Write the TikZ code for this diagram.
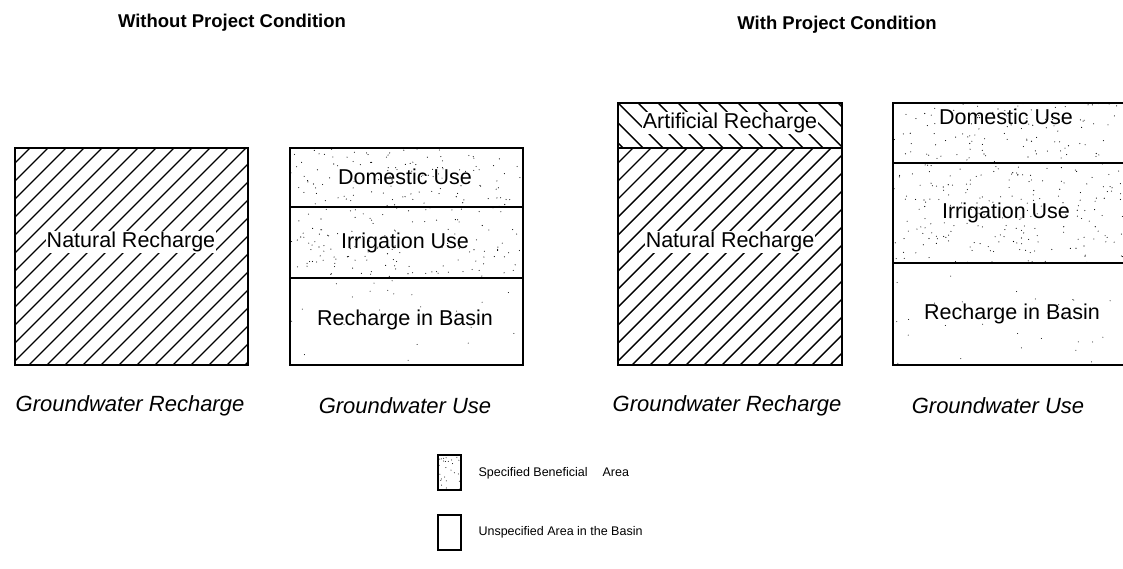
\documentclass[tikz,border=0pt]{standalone}
\usepackage{fontspec}
\setmainfont{Liberation Sans}
\begin{document}
\begin{tikzpicture}[x=1pt,y=-1pt,
  ttl/.style={font=\fontsize{18.5}{22}\selectfont\bfseries},
  lbl/.style={font=\fontsize{21.5}{24}\selectfont, inner sep=1pt},
  hlbl/.style={lbl, fill=white},
  captxt/.style={font=\fontsize{22}{24}\selectfont\itshape},
  leg/.style={font=\fontsize{12.5}{14}\selectfont, anchor=west},
  border/.style={line width=2.3pt},
  divl/.style={line width=1.3pt},
  hatch/.style={line width=1.4pt}
]
\useasboundingbox (0,0) rectangle (1123,569);
\pgfmathsetseed{7}
% ---------- left panel ----------
\node[ttl] (t1) at (232,23) {Without Project Condition};
\begin{scope}
  \clip (15,148) rectangle (248,365);
  \foreach \k in {-220,-202,...,250} {\draw[hatch] (15+\k,365) -- (15+\k+217,148);}
\end{scope}
\draw[border] (15,148) rectangle (248,365);
\node[hlbl] (nr1) at (131,242) {Natural Recharge};
\begin{scope}
  \clip (290,148) rectangle (523,278);
  \foreach \i in {1,...,260} {\pgfmathsetmacro{\px}{290+233*rnd}\pgfmathsetmacro{\py}{148+130*rnd}\fill (\px,\py) circle (0.55pt);}
\end{scope}
\foreach \i in {1,...,25} {\pgfmathsetmacro{\px}{290+233*rnd}\pgfmathsetmacro{\py}{278+87*rnd}\fill (\px,\py) circle (0.5pt);}
\draw[border] (290,148) rectangle (523,365);
\draw[divl] (290,207) -- (523,207);
\draw[divl] (290,278) -- (523,278);
\node[lbl] (du1) at (405,177) {Domestic Use};
\node[lbl] (iu1) at (405,243) {Irrigation Use};
\node[lbl] (rb1) at (405,320) {Recharge in Basin};
\node[captxt] (c1) at (130,406) {Groundwater Recharge};
\node[captxt] (c2) at (405,406) {Groundwater Use};
% ---------- right panel ----------
\node[ttl] (t2) at (837,25) {With Project Condition};
\begin{scope}
  \clip (618,103) rectangle (842,148);
  \foreach \k in {-60,-40,...,240} {\draw[hatch] (618+\k,103) -- (618+\k+45,148);}
\end{scope}
\begin{scope}
  \clip (618,148) rectangle (842,365);
  \foreach \k in {-220,-202,...,240} {\draw[hatch] (618+\k,365) -- (618+\k+217,148);}
\end{scope}
\draw[border] (618,103) rectangle (842,365);
\draw[line width=1.6pt] (618,148) -- (842,148);
\node[hlbl] (ar) at (730,123) {Artificial Recharge};
\node[hlbl] (nr2) at (730,242) {Natural Recharge};
\begin{scope}
  \clip (893,103) rectangle (1123,263);
  \foreach \i in {1,...,320} {\pgfmathsetmacro{\px}{893+230*rnd}\pgfmathsetmacro{\py}{103+160*rnd}\fill (\px,\py) circle (0.55pt);}
\end{scope}
\foreach \i in {1,...,30} {\pgfmathsetmacro{\px}{893+230*rnd}\pgfmathsetmacro{\py}{263+102*rnd}\fill (\px,\py) circle (0.5pt);}
\draw[border] (1123,103) -- (893,103) -- (893,365) -- (1123,365);
\draw[divl] (893,163) -- (1123,163);
\draw[divl] (893,263) -- (1123,263);
\node[lbl] (du2) at (1006,117) {Domestic Use};
\node[lbl] (iu2) at (1006,213) {Irrigation Use};
\node[lbl] (rb2) at (1012,314) {Recharge in Basin};
\node[captxt] (c3) at (727,406) {Groundwater Recharge};
\node[captxt] (c4) at (998,406) {Groundwater Use};
% ---------- legend ----------
\begin{scope}
  \clip (438,455) rectangle (461,490);
  \foreach \i in {1,...,30} {\pgfmathsetmacro{\px}{438+23*rnd}\pgfmathsetmacro{\py}{455+35*rnd}\fill (\px,\py) circle (0.5pt);}
\end{scope}
\draw[border] (438,455) rectangle (461,490);
\node[leg] (l1) at (475,473) {Specified Beneficial\hspace{1.2em}Area};
\draw[border] (438,515) rectangle (461,550);
\node[leg] (l2) at (475,532) {Unspecified Area in the Basin};
\end{tikzpicture}
\end{document}
